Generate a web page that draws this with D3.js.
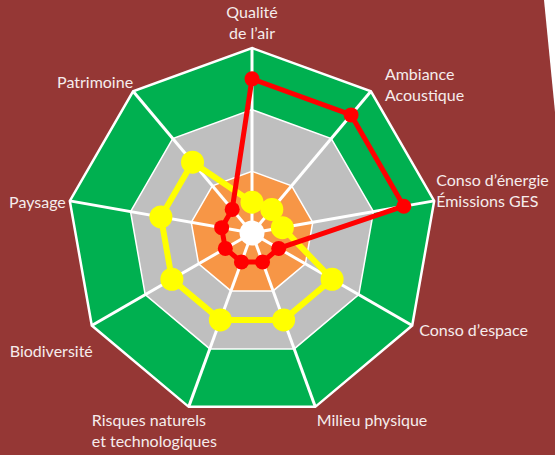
<!DOCTYPE html>
<html>
<head>
<meta charset="utf-8">
<script src="https://cdn.jsdelivr.net/npm/d3@7"></script>
<style>
  body { margin: 0; background: #ffffff; }
  svg { display: block; }
</style>
</head>
<body>
<div id="chart"></div>
<script>

// data
const axes = [
  ["Qualité", "de l’air"],
  ["Ambiance", "Acoustique"],
  ["Conso d’énergie", "Émissions GES"],
  ["Conso d’espace"],
  ["Milieu physique"],
  ["Risques naturels", "et technologiques"],
  ["Biodiversité"],
  ["Paysage"],
  ["Patrimoine"]
];
const bandLevels = [3, 2, 1];
const bandColors = ["#00B050", "#BFBFBF", "#F79646"];
const redValues = [2.5, 2.5, 2.5, 0.5, 0.5, 0.5, 0.5, 0.5, 0.5];
const yellowValues = [0.5, 0.5, 0.5, 1.5, 1.5, 1.5, 1.5, 1.5, 1.5];
const maxLevel = 3;

// label layout (anchor, dx, dy from the axis end)
const labelLayout = [
  {anchor: "middle", dx: 0, dy: -30},
  {anchor: "start", dx: 14, dy: -11},
  {anchor: "start", dx: 2, dy: -15},
  {anchor: "start", dx: 7, dy: 10.5},
  {anchor: "start", dx: 1.5, dy: 19},
  {anchor: "start", dx: -97, dy: 19},
  {anchor: "end", dx: 1, dy: 31},
  {anchor: "end", dx: -4, dy: 7},
  {anchor: "end", dx: 0, dy: -3}
];

// constants for plot design
const FRAME_WIDTH = 555;
const FRAME_HEIGHT = 455;
const CENTER = {x: 252, y: 233};
const RADIUS = 185;
const LINE_HEIGHT = 21;

const rScale = d3.scaleLinear()
                 .domain([0, maxLevel])
                 .range([0, RADIUS]);

const angleScale = d3.scaleLinear()
                     .domain([0, axes.length])
                     .range([0, 2 * Math.PI]);

const px = (i, v) => rScale(v) * Math.sin(angleScale(i));
const py = (i, v) => -rScale(v) * Math.cos(angleScale(i));

const SVG = d3.select("#chart")
              .append("svg")
                .attr("width", FRAME_WIDTH)
                .attr("height", FRAME_HEIGHT);

// background with the white corner
SVG.append("rect")
    .attr("width", FRAME_WIDTH)
    .attr("height", FRAME_HEIGHT)
    .attr("fill", "#953735");

SVG.append("path")
    .attr("d", "M544,0 L555,0 L555,112 Z")
    .attr("fill", "#ffffff");

const G = SVG.append("g")
             .attr("transform", "translate(" + CENTER.x + "," + CENTER.y + ")");

const ring = (level) => d3.lineRadial()
                          .angle((d, i) => angleScale(i))
                          .radius(() => rScale(level))
                          .curve(d3.curveLinearClosed)(axes);

// coloured bands
G.selectAll(".band")
  .data(bandLevels)
  .enter()
  .append("path")
    .attr("class", "band")
    .attr("d", (d) => ring(d))
    .attr("fill", (d, i) => bandColors[i])
    .attr("stroke", "#ffffff")
    .attr("stroke-width", (d) => d === maxLevel ? 2.5 : 1.5)
    .attr("stroke-linejoin", "miter");

// spokes
G.selectAll(".spoke")
  .data(axes)
  .enter()
  .append("line")
    .attr("x1", 0)
    .attr("y1", 0)
    .attr("x2", (d, i) => px(i, maxLevel))
    .attr("y2", (d, i) => py(i, maxLevel))
    .attr("stroke", "#ffffff")
    .attr("stroke-width", 3);

G.append("circle")
  .attr("r", 12.5)
  .attr("fill", "#ffffff");

// series
const series = [
  {values: yellowValues, color: "#FFFF00", width: 6, r: 11.5},
  {values: redValues, color: "#FF0000", width: 5, r: 7.5}
];

series.forEach((s) => {
  G.append("path")
    .datum(s.values)
    .attr("d", d3.lineRadial()
                 .angle((d, i) => angleScale(i))
                 .radius((d) => rScale(d))
                 .curve(d3.curveLinearClosed))
    .attr("fill", "none")
    .attr("stroke", s.color)
    .attr("stroke-width", s.width)
    .attr("stroke-linejoin", "round");

  G.selectAll(null)
    .data(s.values)
    .enter()
    .append("circle")
      .attr("cx", (d, i) => px(i, d))
      .attr("cy", (d, i) => py(i, d))
      .attr("r", s.r)
      .attr("fill", s.color);
});

// axis labels
const labels = G.selectAll(".label")
                .data(axes)
                .enter()
                .append("text")
                  .attr("class", "label")
                  .attr("text-anchor", (d, i) => labelLayout[i].anchor)
                  .attr("font-family", "Lato, 'Open Sans', sans-serif")
                  .attr("font-size", "16px")
                  .attr("fill", "#F6ECEC");

labels.each(function (d, i) {
  const x = px(i, maxLevel) + labelLayout[i].dx;
  const y = py(i, maxLevel) + labelLayout[i].dy;
  d3.select(this).selectAll("tspan")
    .data(d)
    .enter()
    .append("tspan")
      .attr("x", x)
      .attr("y", (t, j) => y + j * LINE_HEIGHT)
      .text((t) => t);
});

</script>
</body>
</html>
